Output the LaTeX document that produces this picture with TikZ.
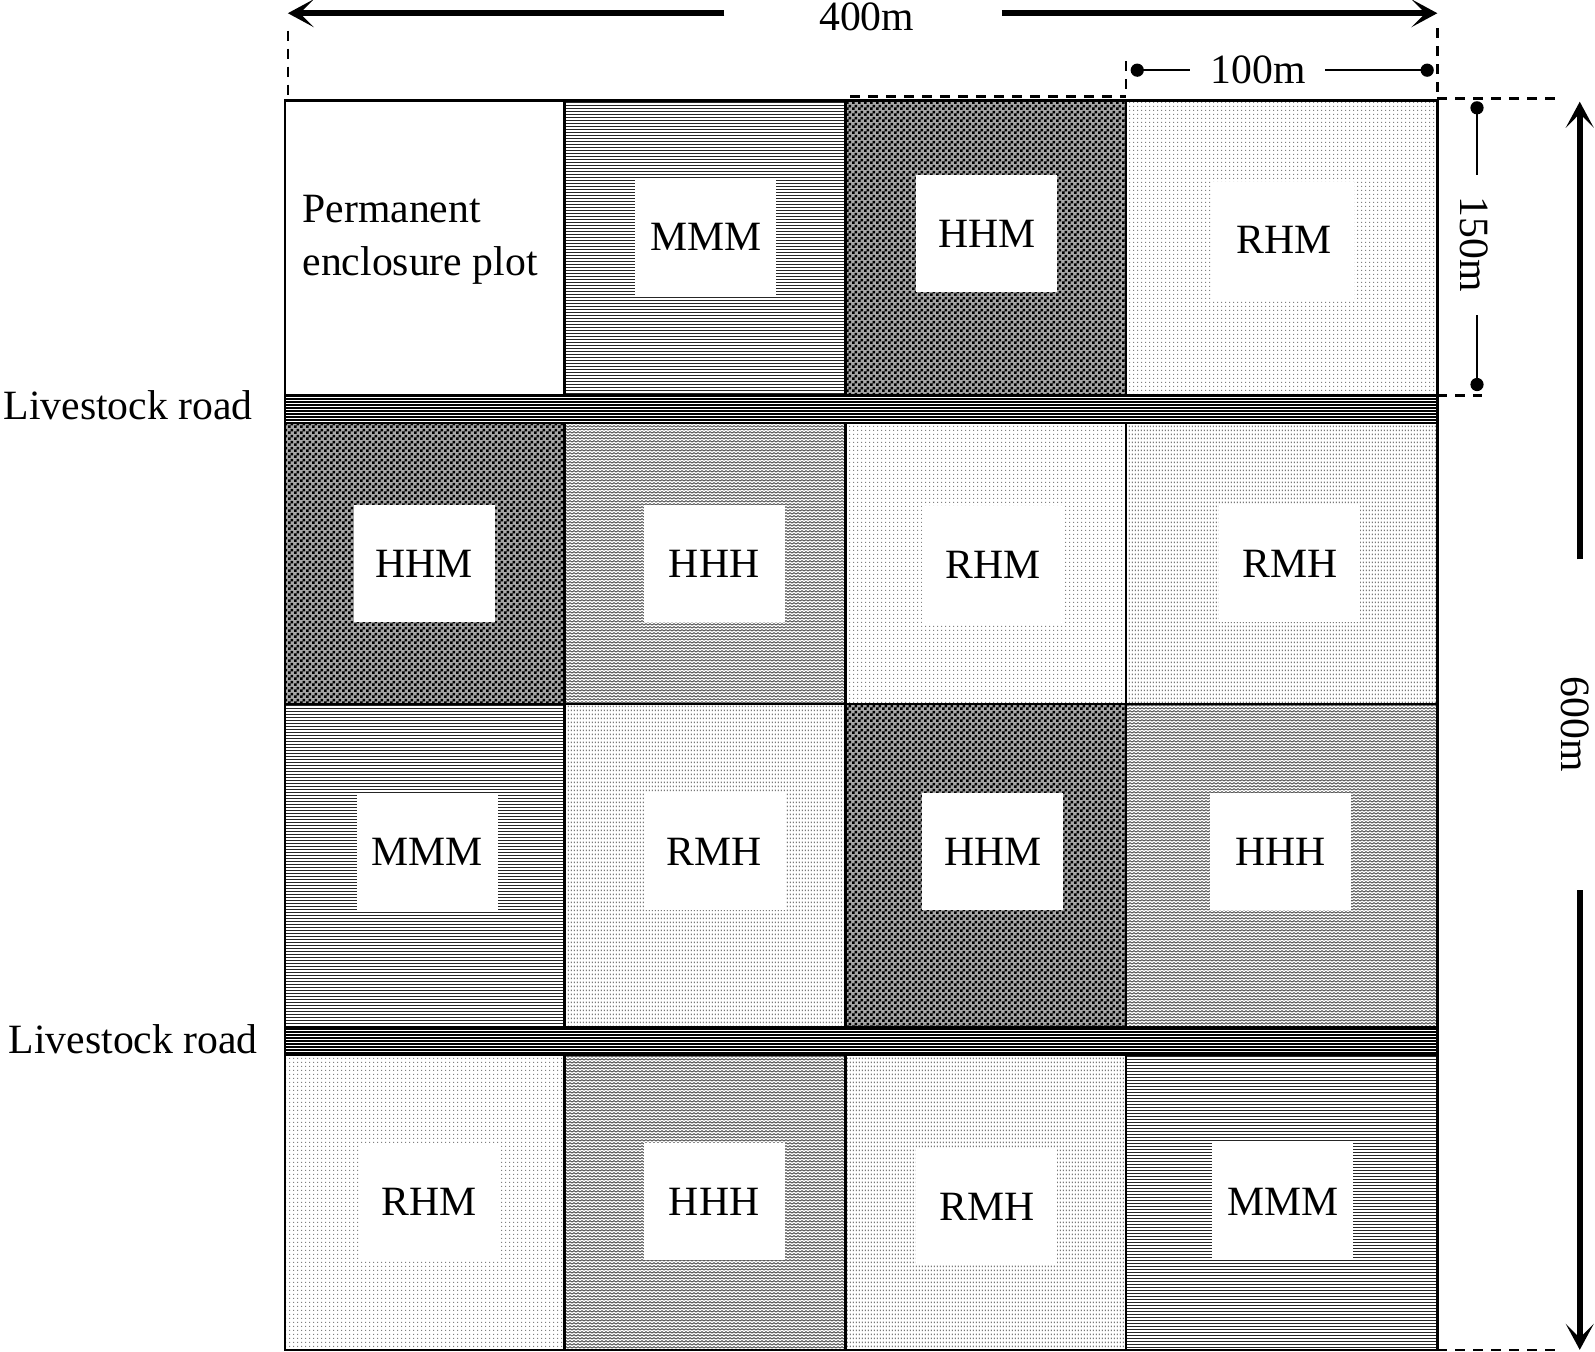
\documentclass[tikz,border=0pt]{standalone}
\usepackage{fontspec}
\setmainfont{Liberation Serif}
\usetikzlibrary{patterns,arrows.meta}
\pgfdeclarepatternformonly{MMM}{\pgfqpoint{-1pt}{-1pt}}{\pgfqpoint{4pt}{4pt}}{\pgfqpoint{3pt}{3pt}}{%
  \pgfsetlinewidth{1.2pt}%
  \pgfpathmoveto{\pgfqpoint{-1pt}{1.5pt}}%
  \pgfpathlineto{\pgfqpoint{4pt}{1.5pt}}%
  \pgfusepath{stroke}}
\pgfdeclarepatternformonly{ROAD}{\pgfqpoint{-1pt}{-1pt}}{\pgfqpoint{4pt}{4pt}}{\pgfqpoint{3pt}{3pt}}{%
  \pgfsetlinewidth{1.8pt}%
  \pgfpathmoveto{\pgfqpoint{-1pt}{1.5pt}}%
  \pgfpathlineto{\pgfqpoint{4pt}{1.5pt}}%
  \pgfusepath{stroke}}
\pgfdeclarepatternformonly{HHM}{\pgfpointorigin}{\pgfqpoint{6pt}{6pt}}{\pgfqpoint{6pt}{6pt}}{%
  \pgfpathrectangle{\pgfpointorigin}{\pgfqpoint{3pt}{3pt}}%
  \pgfpathrectangle{\pgfqpoint{3pt}{3pt}}{\pgfqpoint{3pt}{3pt}}%
  \pgfusepath{fill}}
\pgfdeclarepatternformonly{RHM}{\pgfpointorigin}{\pgfqpoint{4pt}{4pt}}{\pgfqpoint{4pt}{4pt}}{%
  \pgfpathrectangle{\pgfqpoint{1.5pt}{1.5pt}}{\pgfqpoint{1pt}{1pt}}\pgfusepath{fill}}
\pgfdeclarepatternformonly{HHH}{\pgfqpoint{-1pt}{-1pt}}{\pgfqpoint{5pt}{4pt}}{\pgfqpoint{4pt}{3pt}}{%
  \pgfsetlinewidth{0.9pt}%
  \pgfpathmoveto{\pgfqpoint{0pt}{0.8pt}}%
  \pgfpathlineto{\pgfqpoint{2pt}{2.2pt}}%
  \pgfpathlineto{\pgfqpoint{4pt}{0.8pt}}%
  \pgfusepath{stroke}}
\pgfdeclarepatternformonly{RMH}{\pgfpointorigin}{\pgfqpoint{3pt}{4pt}}{\pgfqpoint{3pt}{4pt}}{%
  \pgfpathrectangle{\pgfqpoint{1pt}{1pt}}{\pgfqpoint{1pt}{2pt}}\pgfusepath{fill}}
\tikzset{
  fMMM/.style={pattern=MMM,pattern color=black!85},
  fHHM/.style={pattern=HHM,pattern color=black},
  bHHM/.style={fill=black!35},
  fRHM/.style={pattern=RHM,pattern color=black!50},
  fHHH/.style={pattern=HHH,pattern color=black!70},
  fRMH/.style={pattern=RMH,pattern color=black!80},
  fROAD/.style={pattern=ROAD,pattern color=black},
  cellline/.style={draw=black,line width=2.6pt},
  labbox/.style={fill=white,minimum width=141pt,minimum height=117pt,inner sep=0pt},
  dashline/.style={line width=2.6pt,dash pattern=on 10pt off 8pt},
  dimline/.style={line width=2.6pt},
  bigarrow/.style={line width=5.5pt,-{Stealth[length=26pt,width=28pt,inset=14pt]}},
  dimdot/.style={fill=black},
}
\begin{document}
\begin{tikzpicture}[x=1.01722pt,y=-1.01722pt,font=\fontsize{41.7}{53}\selectfont]
\useasboundingbox (0,0) rectangle (1568,1329);
% ---- dark base under the checkerboard cells
\fill[bHHM] (831,99) rectangle (1107,389);
\fill[bHHM] (280,416) rectangle (555,692);
\fill[bHHM] (831,692) rectangle (1107,1010);
% ---- cell fills
% row 1
\fill[fMMM] (555,99) rectangle (831,389);
\fill[fHHM] (831,99) rectangle (1107,389);
\fill[fRHM] (1107,99) rectangle (1413,389);
% road 1
\fill[fROAD] (280,389) rectangle (1413,416);
% row 2
\fill[fHHM] (280,416) rectangle (555,692);
\fill[fHHH] (555,416) rectangle (831,692);
\fill[fRHM] (831,416) rectangle (1107,692);
\fill[fRMH] (1107,416) rectangle (1413,692);
% row 3
\fill[fMMM] (280,692) rectangle (555,1010);
\fill[fRMH] (555,692) rectangle (831,1010);
\fill[fHHM] (831,692) rectangle (1107,1010);
\fill[fHHH] (1107,692) rectangle (1413,1010);
% road 2
\fill[fROAD] (280,1010) rectangle (1413,1037);
% row 4
\fill[fRHM] (280,1037) rectangle (555,1327);
\fill[fHHH] (555,1037) rectangle (831,1327);
\fill[fRMH] (831,1037) rectangle (1107,1327);
\fill[fMMM] (1107,1037) rectangle (1413,1327);
% ---- cell borders
\foreach \ya/\yb in {99/389,416/692,692/1010,1037/1327}{
  \foreach \xa/\xb in {280/555,555/831,831/1107,1107/1413}{
    \draw[cellline] (\xa,\ya) rectangle (\xb,\yb);
  }
}
\draw[cellline] (280,389) rectangle (1413,416);
\draw[cellline] (280,1010) rectangle (1413,1037);
% ---- label boxes
\node[anchor=west,align=left] (perm) at (294,236) {Permanent\\enclosure plot};
\node[labbox] (l12) at (694,233) {MMM};
\node[labbox] (l13) at (970,230) {HHM};
\node[labbox] (l14) at (1262,236) {RHM};
\node[labbox] (l21) at (417,554) {HHM};
\node[labbox] (l22) at (702,554) {HHH};
\node[labbox] (l23) at (976,555) {RHM};
\node[labbox] (l24) at (1268,554) {RMH};
\node[labbox] (l31) at (420,837) {MMM};
\node[labbox] (l32) at (702,837) {RMH};
\node[labbox] (l33) at (976,837) {HHM};
\node[labbox] (l34) at (1259,837) {HHH};
\node[labbox] (l41) at (422,1181) {RHM};
\node[labbox] (l42) at (702,1181) {HHH};
\node[labbox] (l43) at (970,1186) {RMH};
\node[labbox] (l44) at (1261,1181) {MMM};
% ---- road labels
\node (road1) at (126,398) {Livestock road};
\node (road2) at (131,1022) {Livestock road};
% ---- 400m dimension
\coordinate (t400L) at (283,13);
\coordinate (t400R) at (1413,13);
\coordinate (a400l) at (712,13);
\coordinate (a400r) at (985,13);
\node[anchor=base] (d400) at (852,30) {400m};
\draw[bigarrow] (a400l) -- (t400L);
\draw[bigarrow] (a400r) -- (t400R);
\coordinate (gTL) at (283,99);
\coordinate (gTR) at (1413,97);
\draw[dashline] (283,30) -- (gTL);
\draw[dashline] (1413,28) -- (gTR);
% top dashed over HHM cell
\coordinate (hT1) at (836,95);
\coordinate (hT2) at (1107,95);
\draw[dashline] (hT1) -- (hT2);
% ---- 100m dimension
\coordinate (d100a) at (1107,60);
\draw[dashline] (d100a) -- (hT2);
\coordinate (p100L) at (1118,69);
\coordinate (p100R) at (1403,69);
\node (d100) at (1237,69) {100m};
\draw[dimline] (p100L) -- (1170,69);
\draw[dimline] (1303,69) -- (p100R);
\fill[dimdot] (p100L) circle (6.5);
\fill[dimdot] (p100R) circle (6.5);
% ---- right dashed extensions
\coordinate (rTop) at (1535,97);
\coordinate (rMid) at (1457,389);
\coordinate (rBot) at (1535,1327);
\draw[dashline] (gTR) -- (rTop);
\draw[dashline] (1413,389) -- (rMid);
\draw[dashline] (1413,1327) -- (rBot);
% ---- 150m dimension
\coordinate (p150T) at (1452,106);
\coordinate (p150B) at (1452,378);
\node[rotate=-90] (d150) at (1449,240) {150m};
\draw[dimline] (p150T) -- (1452,172);
\draw[dimline] (1452,310) -- (p150B);
\fill[dimdot] (p150T) circle (6.5);
\fill[dimdot] (p150B) circle (6.5);
% ---- 600m dimension
\coordinate (a600t) at (1553,100);
\coordinate (a600b) at (1553,1327);
\coordinate (a600u) at (1553,550);
\coordinate (a600d) at (1553,875);
\node[rotate=-90] (d600) at (1548,712) {600m};
\draw[bigarrow] (a600u) -- (a600t);
\draw[bigarrow] (a600d) -- (a600b);
\end{tikzpicture}
\end{document}
